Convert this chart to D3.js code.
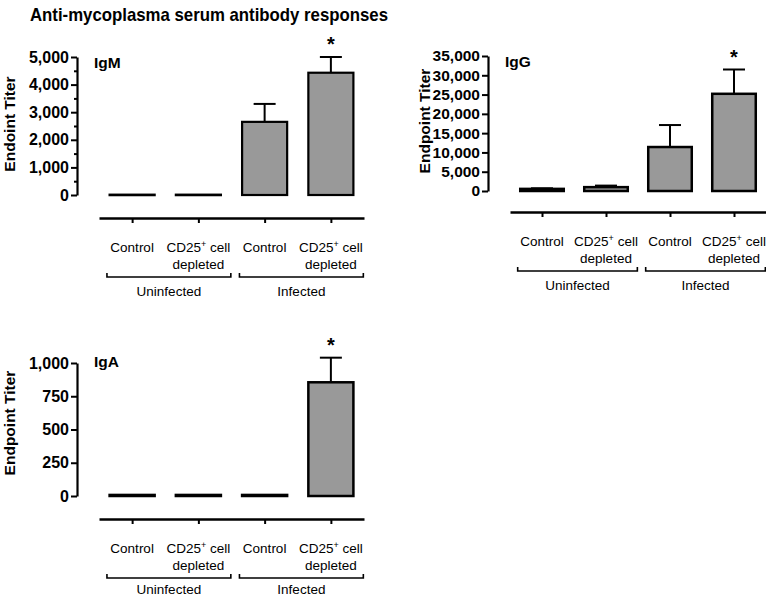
<!DOCTYPE html>
<html><head><meta charset="utf-8">
<script src="https://cdn.jsdelivr.net/npm/d3@7"></script>
<style>
body{margin:0;background:#fff}
svg{display:block}
text{font-family:"Liberation Sans",Arial,Helvetica,sans-serif;fill:#000}
</style>
</head><body>
<svg id="c" width="766" height="597"></svg>
<script>
// ---------- data ----------
const title = "Anti-mycoplasma serum antibody responses";
const categories = ["Control", "CD25+ cell depleted", "Control", "CD25+ cell depleted"];
const groups = ["Uninfected", "Infected"];
const groupMembers = [[0, 1], [2, 3]];
const significant = [false, false, false, true];

const igmMeans = [12, 12, 2650, 4430];
const igmSem   = [0, 0, 650, 570];
const igmTicks = [0, 1000, 2000, 3000, 4000, 5000];
const igmMinor = [500, 1500, 2500, 3500, 4500];

const iggMeans = [550, 1000, 11400, 25200];
const iggSem   = [150, 400, 5700, 6300];
const iggTicks = [0, 5000, 10000, 15000, 20000, 25000, 30000, 35000];

const igaMeans = [8, 8, 8, 855];
const igaSem   = [0, 0, 0, 185];
const igaTicks = [0, 250, 500, 750, 1000];

// ---------- layout ----------
const svg = d3.select("#c");
svg.append("text").attr("x", 30).attr("y", 21)
  .attr("font-size", 18.5).attr("font-weight", "bold")
  .attr("textLength", 358).attr("lengthAdjust", "spacingAndGlyphs")
  .text(title);

function drawPanel(cfg) {
  const g = svg.append("g");
  const y = d3.scaleLinear().domain([0, d3.max(cfg.ticks)]).range([cfg.yZero, cfg.yTop]);
  const x = d3.scalePoint().domain(d3.range(categories.length)).range([cfg.x0, cfg.x1]).padding(0.5);
  const step = x.step();
  const bw = step * 0.68;

  // y axis
  const ya = g.append("g").attr("transform", `translate(${cfg.axisX},0)`)
    .call(d3.axisLeft(y).tickValues(cfg.ticks).tickFormat(d3.format(",")).tickSize(6).tickSizeOuter(0).tickPadding(2));
  ya.select(".domain").attr("stroke", "#000").attr("stroke-width", 2.2);
  ya.selectAll(".tick line").attr("stroke", "#000").attr("stroke-width", 2);
  ya.selectAll(".tick text").attr("font-size", cfg.tickFont).attr("font-weight", "bold")
    .attr("font-family", "'Liberation Sans',Arial,sans-serif").attr("fill", "#000");
  if (cfg.minor) {
    const ym = g.append("g").attr("transform", `translate(${cfg.axisX},0)`)
      .call(d3.axisLeft(y).tickValues(cfg.minor).tickFormat("").tickSize(3));
    ym.select(".domain").remove();
    ym.selectAll(".tick line").attr("stroke", "#000").attr("stroke-width", 2);
  }

  // y label
  g.append("text")
    .attr("transform", `translate(${cfg.ylabX},${cfg.ylabY}) rotate(-90)`)
    .attr("text-anchor", "middle").attr("font-size", 15.5).attr("font-weight", "bold")
    .text(cfg.ylabel);

  // panel label
  g.append("text").attr("x", cfg.axisX + 17).attr("y", cfg.labY)
    .attr("font-size", 15.5).attr("font-weight", "bold").text(cfg.name);

  const data = cfg.means.map((m, i) => ({i, m, s: cfg.sem[i]}));

  // error bars
  const eb = g.append("g").attr("stroke", "#000").attr("stroke-width", 2);
  data.filter(d => d.s > 0).forEach(d => {
    eb.append("line").attr("x1", x(d.i)).attr("x2", x(d.i)).attr("y1", y(d.m)).attr("y2", y(d.m + d.s));
    eb.append("line").attr("x1", x(d.i) - 11).attr("x2", x(d.i) + 11).attr("y1", y(d.m + d.s)).attr("y2", y(d.m + d.s));
  });

  // bars
  g.append("g").selectAll("rect").data(data).join("rect")
    .attr("x", d => x(d.i) - bw / 2).attr("width", bw)
    .attr("y", d => y(d.m)).attr("height", d => Math.max(0.5, y(0) - y(d.m)))
    .attr("fill", "#999").attr("stroke", "#000").attr("stroke-width", cfg.barStroke);

  // significance
  data.filter(d => significant[d.i]).forEach(d => {
    g.append("text").attr("x", x(d.i)).attr("y", y(d.m + d.s) - 6)
      .attr("text-anchor", "middle").attr("font-size", 20).attr("font-weight", "bold").text("*");
  });

  // x axis
  const xa = g.append("g").attr("transform", `translate(0,${cfg.xAxisY})`)
    .call(d3.axisBottom(x).tickFormat("").tickSize(5).tickSizeOuter(0));
  xa.select(".domain").attr("stroke", "#000").attr("stroke-width", 2.5);
  xa.selectAll(".tick line").attr("stroke", "#000").attr("stroke-width", 2);

  // category labels
  categories.forEach((c, i) => {
    const t1 = g.append("text").attr("x", x(i)).attr("y", cfg.xAxisY + 34)
      .attr("text-anchor", "middle").attr("font-size", 13.5);
    if (c.startsWith("CD25+")) {
      t1.append("tspan").text("CD25");
      t1.append("tspan").attr("font-size", 9).attr("dy", -5).text("+");
      t1.append("tspan").attr("dy", 5).text(" cell");
      g.append("text").attr("x", x(i)).attr("y", cfg.xAxisY + 51)
        .attr("text-anchor", "middle").attr("font-size", 13.5).text(c.replace("CD25+ cell ", ""));
    } else {
      t1.text(c);
    }
  });

  // group brackets
  const by = cfg.xAxisY + 59;
  groups.forEach((gname, k) => {
    const mem = groupMembers[k];
    const xs = x(mem[0]) - 0.38 * step, xe = x(mem[mem.length - 1]) + 0.49 * step;
    g.append("path").attr("d", `M${xs},${by - 4}V${by}H${xe}V${by - 4}`)
      .attr("fill", "none").attr("stroke", "#000").attr("stroke-width", 1.6);
    g.append("text").attr("x", (xs + xe) / 2).attr("y", by + cfg.groupDy)
      .attr("text-anchor", "middle").attr("font-size", 13.5).text(gname);
  });
}

drawPanel({name: "IgM", ylabel: "Endoint Titer", means: igmMeans, sem: igmSem, ticks: igmTicks, minor: igmMinor,
  yZero: 195, yTop: 57, x0: 99, x1: 364, axisX: 77, xAxisY: 218, labY: 68, ylabX: 15, ylabY: 124,
  barStroke: 2.2, tickFont: 16, groupDy: 19});
drawPanel({name: "IgG", ylabel: "Endpoint Titer", means: iggMeans, sem: iggSem, ticks: iggTicks,
  yZero: 191, yTop: 56, x0: 510, x1: 766, axisX: 488, xAxisY: 212, labY: 67, ylabX: 430, ylabY: 121,
  barStroke: 2.5, tickFont: 15.5, groupDy: 19});
drawPanel({name: "IgA", ylabel: "Endpoint Titer", means: igaMeans, sem: igaSem, ticks: igaTicks,
  yZero: 496, yTop: 363, x0: 99, x1: 364, axisX: 77, xAxisY: 519, labY: 367, ylabX: 15, ylabY: 423,
  barStroke: 2.5, tickFont: 16, groupDy: 16});
</script>
</body></html>
